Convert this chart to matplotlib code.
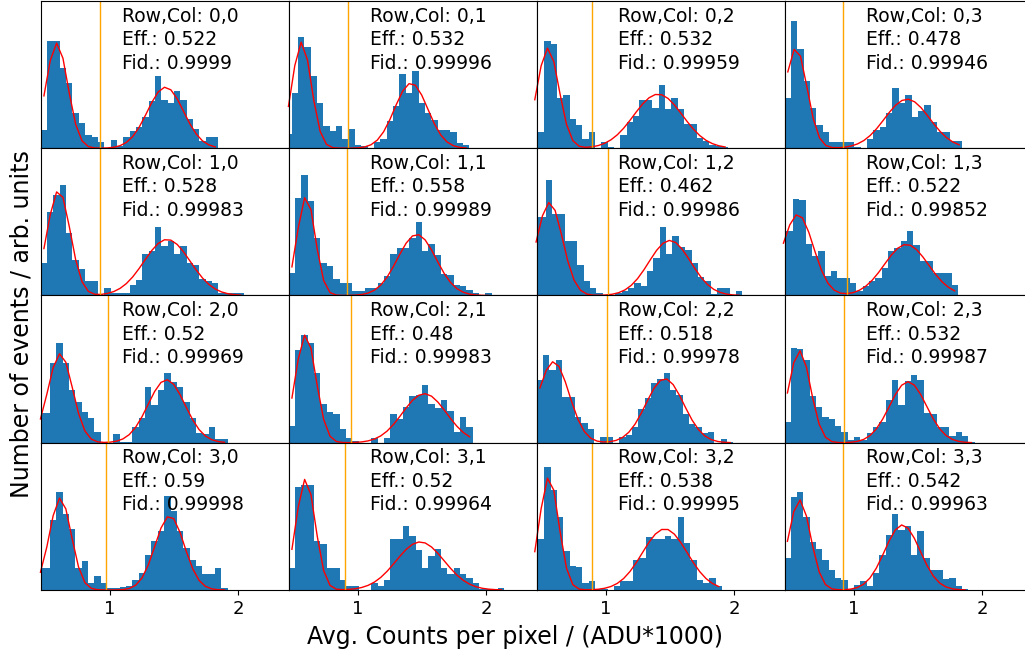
import numpy as np
import matplotlib.pyplot as plt

# bin contents (arb. units), one list per pixel
h00 = [18, 107, 107, 80, 65, 35, 25, 13, 11, 6, 0, 8, 2, 11, 17, 21, 31, 47, 72, 48, 45, 57, 48, 29, 19, 7, 11, 11]
h01 = [14, 55, 111, 101, 72, 45, 22, 17, 22, 9, 19, 3, 2, 0, 6, 9, 27, 42, 74, 55, 77, 45, 35, 28, 18, 18, 16, 5, 3]
h02 = [16, 16, 107, 104, 50, 53, 29, 23, 9, 16, 0, 6, 1, 0, 13, 26, 32, 48, 48, 40, 63, 39, 50, 39, 24, 24, 10, 7, 3, 2, 1]
h03 = [50, 127, 99, 67, 40, 23, 16, 6, 6, 6, 6, 1, 0, 9, 18, 21, 35, 60, 45, 53, 31, 37, 43, 26, 16, 16, 7, 7]
h10 = [32, 83, 100, 110, 62, 35, 26, 14, 14, 0, 7, 2, 2, 2, 10, 15, 41, 44, 68, 49, 54, 41, 49, 32, 30, 16, 14, 12, 2, 2, 2, 2]
h11 = [22, 97, 120, 94, 57, 32, 29, 16, 12, 12, 4, 4, 7, 7, 12, 19, 41, 47, 47, 57, 73, 44, 51, 40, 21, 20, 10, 9, 5, 2, 0, 2]
h12 = [78, 78, 115, 81, 81, 54, 54, 30, 14, 7, 2, 0, 0, 2, 4, 7, 12, 9, 24, 37, 68, 41, 59, 48, 45, 32, 18, 14, 1, 7, 7, 0, 4]
h13 = [64, 64, 96, 95, 51, 39, 44, 19, 24, 17, 17, 12, 4, 9, 14, 17, 27, 44, 47, 54, 64, 50, 34, 34, 22, 22, 22, 10]
h20 = [30, 30, 80, 100, 80, 53, 41, 31, 25, 11, 0, 0, 9, 1, 1, 16, 25, 56, 38, 53, 70, 61, 56, 41, 25, 10, 9, 16, 4, 4]
h21 = [17, 93, 108, 100, 70, 39, 31, 29, 14, 5, 2, 0, 0, 5, 0, 5, 29, 24, 36, 47, 48, 58, 39, 35, 43, 32, 11, 26, 16]
h22 = [63, 88, 73, 83, 46, 46, 26, 20, 14, 0, 6, 6, 0, 6, 8, 16, 34, 45, 60, 64, 70, 53, 48, 29, 19, 16, 10, 11, 0, 4, 1]
h23 = [21, 95, 94, 83, 47, 36, 26, 24, 17, 11, 3, 6, 3, 10, 16, 21, 43, 63, 38, 62, 68, 63, 30, 29, 16, 16, 7, 11, 7, 1]
h30 = [22, 22, 70, 98, 76, 61, 22, 29, 7, 14, 7, 2, 2, 3, 4, 10, 17, 35, 49, 59, 94, 79, 59, 42, 30, 24, 16, 16, 22, 2]
h31 = [22, 103, 105, 105, 49, 46, 22, 22, 10, 4, 4, 0, 0, 7, 4, 10, 51, 51, 64, 54, 40, 22, 34, 41, 22, 16, 22, 16, 12, 7, 1, 1, 1, 2]
h32 = [14, 51, 123, 100, 73, 39, 24, 23, 7, 9, 1, 1, 0, 4, 9, 9, 30, 32, 53, 51, 51, 54, 51, 73, 47, 30, 10, 7, 12, 4]
h33 = [32, 93, 98, 73, 48, 41, 30, 20, 12, 10, 1, 5, 9, 4, 17, 35, 55, 76, 60, 64, 35, 59, 32, 20, 20, 11, 12, 4, 1]
hists = [h00, h01, h02, h03, h10, h11, h12, h13, h20, h21, h22, h23, h30, h31, h32, h33]

# left edge of the first bin (ADU*1000), common bin width
bin_start = [0.465, 0.438, 0.425, 0.464, 0.465, 0.465, 0.435, 0.430,
             0.438, 0.465, 0.465, 0.461, 0.438, 0.465, 0.425, 0.461]
bin_width = 0.0493

# double gaussian fit: mean, sigma, amplitude for 0-state and 1-state
mu0 = [0.590, 0.565, 0.552, 0.552, 0.604, 0.600, 0.565, 0.567, 0.617, 0.596, 0.596, 0.580, 0.617, 0.596, 0.560, 0.580]
sig0 = [0.085, 0.075, 0.085, 0.086, 0.090, 0.070, 0.100, 0.120, 0.095, 0.080, 0.120, 0.085, 0.085, 0.075, 0.075, 0.085]
amp0 = [105, 106, 100, 100, 105, 99, 93, 81, 89, 108, 81, 92, 92, 111, 113, 90]
mu1 = [1.434, 1.416, 1.408, 1.416, 1.447, 1.460, 1.499, 1.410, 1.442, 1.519, 1.460, 1.423, 1.467, 1.486, 1.460, 1.379]
sig1 = [0.140, 0.129, 0.190, 0.175, 0.180, 0.149, 0.163, 0.171, 0.143, 0.171, 0.147, 0.143, 0.113, 0.187, 0.175, 0.137]
amp1 = [61, 65, 54, 49, 56, 61, 55, 51, 63, 49, 64, 61, 74, 48, 61, 65]

threshold = [0.923, 0.923, 0.892, 0.920, 0.923, 0.918, 1.019, 0.949,
             0.985, 0.951, 1.011, 0.928, 0.969, 0.905, 0.892, 0.918]
eff = ['0.522', '0.532', '0.532', '0.478', '0.528', '0.558', '0.462', '0.522',
       '0.52', '0.48', '0.518', '0.532', '0.59', '0.52', '0.538', '0.542']
fid = ['0.9999', '0.99996', '0.99959', '0.99946', '0.99983', '0.99989', '0.99986', '0.99852',
       '0.99969', '0.99983', '0.99978', '0.99987', '0.99998', '0.99964', '0.99995', '0.99963']


def gauss(x, a, m, s):
    return a * np.exp(-(x - m) ** 2 / (2 * s ** 2))


fig = plt.figure(figsize=(10.25, 6.61), dpi=100)
gs = fig.add_gridspec(4, 4, left=40.5 / 1025, right=(40.5 + 4 * 248) / 1025,
                      bottom=1 - 590 / 661, top=1 - 1 / 661, wspace=0, hspace=0)

for i in range(16):
    r, c = divmod(i, 4)
    ax = fig.add_subplot(gs[r, c])
    h = np.array(hists[i])
    left = bin_start[i] + bin_width * np.arange(len(h))
    ax.bar(left, h, width=bin_width, align='edge', color='#1f77b4')
    centers = left + bin_width / 2
    fit = gauss(centers, amp0[i], mu0[i], sig0[i]) + gauss(centers, amp1[i], mu1[i], sig1[i])
    ax.plot(centers, fit, 'r', lw=1, clip_on=False)
    ax.axvline(threshold[i], color='orange', lw=1)
    ax.text(0.33, 0.962, 'Row,Col: %d,%d\nEff.: %s\nFid.: %s' % (r, c, eff[i], fid[i]),
            transform=ax.transAxes, ha='left', va='top', fontsize=13.5, linespacing=1.3)
    ax.set_xlim(0.463, 2.39)
    ax.set_ylim(0, 147)
    ax.set_yticks([])
    if r == 3:
        ax.set_xticks([1, 2])
        ax.tick_params(axis='x', labelsize=13)
    else:
        ax.set_xticks([])

fig.text(0.5025, 0.036, 'Avg. Counts per pixel / (ADU*1000)', ha='center', va='center', fontsize=17)
fig.text(0.021, 0.51, 'Number of events / arb. units', ha='center', va='center',
         rotation=90, fontsize=17)

fig.savefig('out.png', dpi=100)
